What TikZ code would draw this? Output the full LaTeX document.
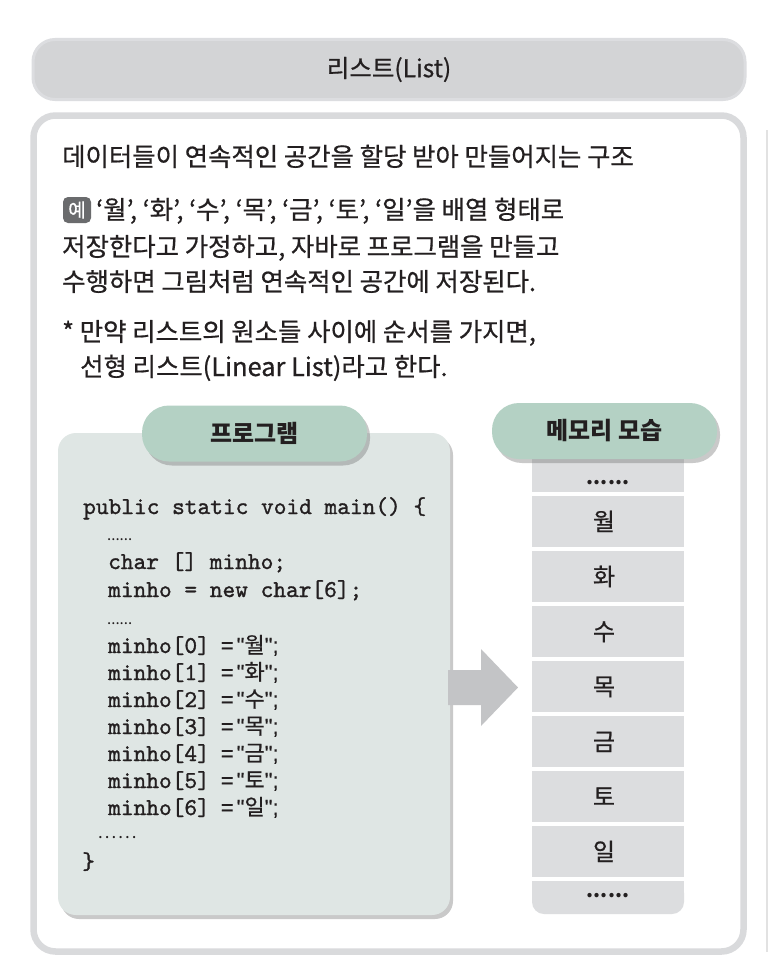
\documentclass[tikz,border=0pt]{standalone}
\usepackage{fontspec}
\setmainfont{Noto Sans CJK KR}
\newfontfamily\krmed{Noto Sans CJK KR}[FakeBold=0.6]
\newfontfamily\lsans{Liberation Sans}[FakeBold=0.4]
\newfontfamily\codefont{lmmono10-regular.otf}[FakeBold=1.2]
\usetikzlibrary{shadows}
\definecolor{titlegray}{HTML}{D3D4D6}
\definecolor{titlerim}{HTML}{DCDDE0}
\definecolor{framegray}{HTML}{D9DADC}
\definecolor{progfill}{HTML}{DFE6E4}
\definecolor{pillgreen}{HTML}{B4D1C4}
\definecolor{cellgray}{HTML}{DCDDDF}
\definecolor{arrowgray}{HTML}{C3C4C6}
\definecolor{badgegray}{HTML}{6A6B6D}
\definecolor{ink}{HTML}{231F20}
\definecolor{edgegray}{HTML}{E2E2E2}
\begin{document}
\begin{tikzpicture}[x=1pt,y=-1pt,
  txt/.style={anchor=base west,inner sep=0pt,text=ink,font=\krmed\fontsize{25.4}{28}\selectfont},
  code/.style={anchor=base west,inner sep=0pt,text=ink,font=\codefont\fontsize{24.2}{28}\selectfont},
  pillbox/.style={fill=pillgreen,rounded corners=27,inner sep=0pt,minimum height=56,
     font=\bfseries\fontsize{24}{28}\selectfont,text=ink,
     drop shadow={shadow xshift=3pt,shadow yshift=-4pt,opacity=0.35,fill=black!60}},
  cellbox/.style={fill=cellgray,inner sep=0pt,minimum width=152,minimum height=51},
  celltxt/.style={anchor=base,inner sep=0pt,text=ink,font=\krmed\fontsize{24}{28}\selectfont},
  dotstxt/.style={anchor=base,inner sep=0pt,text=ink,font=\bfseries\fontsize{20}{24}\selectfont}
]
\path[use as bounding box] (0,0) rectangle (768,974);
\fill[white] (0,0) rectangle (768,974);
% faint edge at right
\draw[edgegray,line width=1.5] (767.2,130) -- (767.2,952);
% title bar
\node[fill=titlegray,draw=titlerim,line width=3,rounded corners=22,minimum width=712,minimum height=60,inner sep=0pt,
  font=\krmed\fontsize{24.5}{28}\selectfont,text=ink] (title) at (389,69.5) {리스트(List)};
% main frame
\node[draw=framegray,fill=white,line width=6.5,rounded corners=22,minimum width=710,minimum height=836,inner sep=0pt] (main) at (388.5,533.5) {};
% paragraph
\node[txt] (l1) at (62,166) {데이터들이 연속적인 공간을 할당 받아 만들어지는 구조};
\node[fill=badgegray,rounded corners=5,minimum width=28,minimum height=26,inner sep=0pt,text=white,
  font=\krmed\fontsize{19}{22}\selectfont] (ex) at (77,210) {예};
\node[txt] (l2) at (96,219) {‘월’, ‘화’, ‘수’, ‘목’, ‘금’, ‘토’, ‘일’을 배열 형태로};
\node[txt] (l3) at (62,256) {저장한다고 가정하고, 자바로 프로그램을 만들고};
\node[txt] (l4) at (62,291) {수행하면 그림처럼 연속적인 공간에 저장된다.};
\node[txt] (l5) at (62,341) {* 만약 리스트의 원소들 사이에 순서를 가지면,};
\node[txt] (l6) at (80,376) {선형 리스트(Linear List)라고 한다.};
% program box
\node[fill=progfill,rounded corners=18,minimum width=392,minimum height=482,inner sep=0pt,
  drop shadow={shadow xshift=3pt,shadow yshift=-4pt,opacity=0.35,fill=black!60}] (prog) at (254,674) {};
\node[pillbox,minimum width=225] (proglabel) at (254.5,433.5) {프로그램};
% code
\node[code] (c1) at (83,514) {public static void main() \{};
\node[dotstxt,anchor=base west,font=\fontsize{15}{18}\selectfont] (c2) at (107,540) {......};
\node[code] (c3) at (108,569) {char [] minho;};
\node[code] (c4) at (108,597) {minho = new char[6];};
\node[dotstxt,anchor=base west,font=\fontsize{15}{18}\selectfont] (c5) at (107,624) {......};
\foreach \i/\d/\y in {0/월/653,1/화/680,2/수/707,3/목/734,4/금/761,5/토/788,6/일/815}{
  \node[code] (k\i) at (108,\y) {minho[\i]\hspace{11pt}{\lsans\fontsize{22}{26}\selectfont=\hspace{3pt}"}{\krmed\fontsize{22}{26}\selectfont\d}{\lsans\fontsize{22}{26}\selectfont";}};
}
\node[dotstxt,anchor=base west,font=\fontsize{17}{20}\selectfont] (c6) at (98,838) {.\kern2pt.\kern2pt.\kern2pt.\kern2pt.\kern2pt.};
\node[code] (c7) at (82,869) {\}};
% arrow
\fill[arrowgray] (448,670) -- (481,670) -- (481,649) -- (518,687.5) -- (481,726) -- (481,705) -- (448,705) -- cycle;
% memory column
\node[cellbox,minimum height=37] (mt) at (608,473.5) {};
\node[dotstxt] (mtd) at (608,484) {......};
\foreach \i/\d/\y in {0/월/521.5,1/화/576.5,2/수/631.5,3/목/686.5,4/금/741.5,5/토/796.5,6/일/851.5}{
  \node[cellbox] (m\i) at (608,\y) {};
  \node[celltxt] (t\i) at (604,\y+9) {\d};
}
\node[cellbox,minimum height=33,rounded corners=12] (mb) at (608,897.5) {};
\fill[cellgray] (mb.north west) rectangle ([yshift=-14pt]mb.north east);
\node[dotstxt] (mbd) at (608,897) {......};
\node[pillbox,minimum width=225] (memlabel) at (604.5,431) {메모리 모습};
\end{tikzpicture}
\end{document}
